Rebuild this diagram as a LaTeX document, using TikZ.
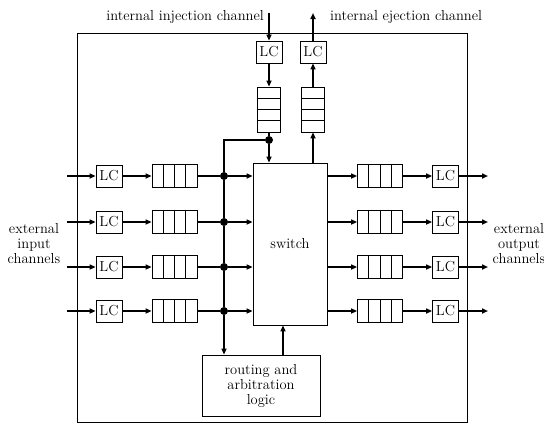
\documentclass[tikz,border=0pt]{standalone}
\usepackage{tikz}
\usetikzlibrary{arrows.meta,calc}
\newcommand\diagfont{\fontsize{14.5}{15}\selectfont}
\tikzset{
  >={Triangle[length=6pt,width=5pt]},
  box/.style={draw,line width=0.8pt,inner sep=0pt},
  lc/.style={box,minimum width=26pt,minimum height=22pt,font=\diagfont},
  qh/.style={box,minimum width=45pt,minimum height=23pt,
    path picture={\foreach \k in {1,2,3}
      \draw[line width=0.8pt]
        ($(path picture bounding box.south west)!\k/4!(path picture bounding box.south east)$) --
        ($(path picture bounding box.north west)!\k/4!(path picture bounding box.north east)$);}},
  qv/.style={box,minimum width=23pt,minimum height=45pt,
    path picture={\foreach \k in {1,2,3}
      \draw[line width=0.8pt]
        ($(path picture bounding box.north west)!\k/4!(path picture bounding box.south west)$) --
        ($(path picture bounding box.north east)!\k/4!(path picture bounding box.south east)$);}},
  jdot/.style={circle,fill,inner sep=0pt,minimum size=8pt},
  wire/.style={line width=1.8pt},
  arr/.style={wire,->},
  txt/.style={font=\diagfont,inner sep=1pt,align=center},
}

\begin{document}
\begin{tikzpicture}[x=1pt,y=-1pt]
  \useasboundingbox (0,0) rectangle (544,424);
  % router frame
  \node[box,minimum width=390pt,minimum height=389pt] (frame) at (272,227.5) {};
  \node[box,minimum width=74pt,minimum height=162pt,font=\diagfont] (sw) at (290,244) {switch};
  \node[box,minimum width=118pt,minimum height=61pt,txt] (rt) at (261,385.5)
    {routing and\\arbitration\\logic};

  % internal channels
  \coordinate (injin) at (269,13);
  \coordinate (ejout) at (313,13);
  \node[lc] (injlc) at (269,52) {LC};
  \node[lc] (ejlc)  at (313,52) {LC};
  \node[qv] (injq)  at (269,109.5) {};
  \node[qv] (ejq)   at (313,109.5) {};
  \node[jdot] (tdot) at (269,140) {};
  \node[txt,anchor=east] (injlbl) at (265,17) {internal injection channel};
  \node[txt,anchor=west] (ejlbl)  at (329,17) {internal ejection channel};

  \draw[arr] (injin) -- (injlc);
  \draw[arr] (injlc) -- (injq);
  \draw[wire] (injq) -- (tdot);
  \draw[arr] (tdot) -- (tdot |- sw.north);
  \draw[arr] (sw.north -| ejq.south) -- (ejq);
  \draw[arr] (ejq) -- (ejlc);
  \draw[arr] (ejlc) -- (ejout);

  % external input / output rows
  \foreach \y [count=\i] in {176,222,267,311}{
    \coordinate (in\i) at (67,\y);
    \coordinate (out\i) at (488,\y);
    \node[lc] (inlc\i) at (109,\y) {LC};
    \node[qh] (inq\i) at (174.5,\y) {};
    \node[jdot] (d\i) at (224,\y) {};
    \node[qh] (outq\i) at (380,\y) {};
    \node[lc] (outlc\i) at (445.5,\y) {LC};
    \draw[arr] (in\i) -- (inlc\i);
    \draw[arr] (inlc\i) -- (inq\i);
    \draw[wire] (inq\i) -- (d\i);
    \draw[arr] (d\i) -- (d\i -| sw.west);
    \draw[arr] (sw.east |- outq\i) -- (outq\i);
    \draw[arr] (outq\i) -- (outlc\i);
    \draw[arr] (outlc\i) -- (out\i);
  }

  % bus to routing logic
  \draw[wire] (tdot) -| (d1);
  \draw[wire] (d1) -- (d2) -- (d3) -- (d4);
  \draw[arr] (d4) -- (d4 |- rt.north);
  \draw[arr] ([xshift=22pt]rt.north) -- ([xshift=22pt]rt.north |- sw.south);

  \node[txt] (inlbl) at (34,244) {external\\input\\channels};
  \node[txt] (outlbl) at (519,244) {external\\output\\channels};
\end{tikzpicture}
\end{document}
